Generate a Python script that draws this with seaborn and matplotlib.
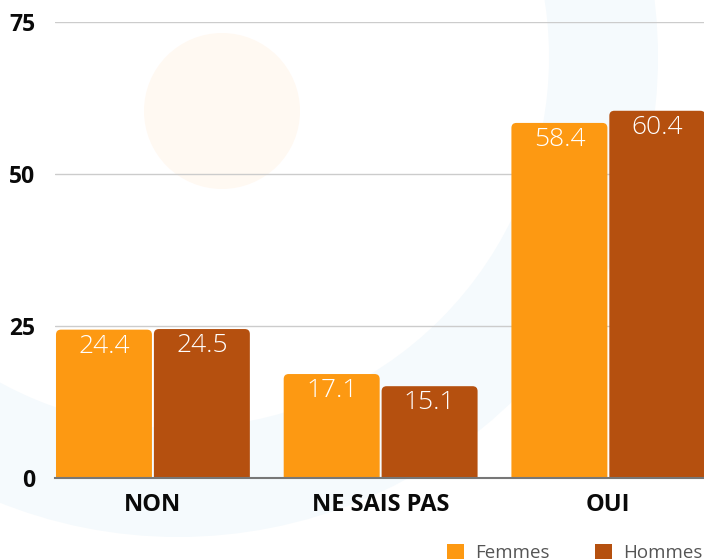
import numpy as np
import pandas as pd
import matplotlib
matplotlib.use("Agg")
import matplotlib.pyplot as plt
import seaborn as sns
from matplotlib.patches import FancyBboxPatch, Patch, Circle, Wedge

# data
categories = ["NON", "NE SAIS PAS", "OUI"]
femmes = [24.4, 17.1, 58.4]
hommes = [24.5, 15.1, 60.4]
series_names = ["Femmes", "Hommes"]
colors = ["#fd9912", "#b5500f"]
y_ticks = [0, 25, 50, 75]

df = pd.DataFrame({
    "categorie": categories * 2,
    "valeur": femmes + hommes,
    "sexe": [series_names[0]] * len(categories) + [series_names[1]] * len(categories),
})

sns.set_theme(style="white")
plt.rcParams["font.family"] = ["Open Sans", "DejaVu Sans"]

W, H = 704, 559
fig = plt.figure(figsize=(W / 100, H / 100), dpi=100, facecolor="white")
ax = fig.add_axes([55 / W, 81 / H, 649 / W, 456 / H])
ax.set_facecolor("none")

# faint decorative background shapes (pixel coords -> inches)
def px(x, y):
    return (x / 100, (H - y) / 100)

ring = Wedge(px(178, 57), 4.80, 0, 360, width=1.09, facecolor="#f5fafd",
             edgecolor="none", transform=fig.dpi_scale_trans, zorder=-2)
dot = Circle(px(222, 111), 0.78, facecolor="#fff9f2", edgecolor="none",
             transform=fig.dpi_scale_trans, zorder=-1)
fig.add_artist(ring)
fig.add_artist(dot)

sns.barplot(data=df, x="categorie", y="valeur", hue="sexe", order=categories,
            hue_order=series_names, palette=colors, width=0.86, gap=0.02,
            saturation=1, legend=False, ax=ax, zorder=3)

ax.set_xlim(-0.43, 2.42)
ax.set_ylim(0, 75)

# rounded top corners for the bars
x_per_px = (2.42 + 0.43) / 649
y_per_px = 75 / 456
rad = 5
bars = list(ax.patches)
for p in bars:
    x0, w, h = p.get_x(), p.get_width(), p.get_height()
    fc = p.get_facecolor()
    p.remove()
    fb = FancyBboxPatch((x0, -3), w, h + 3,
                        boxstyle=f"round,pad=0,rounding_size={rad * x_per_px}",
                        mutation_aspect=y_per_px / x_per_px,
                        facecolor=fc, edgecolor="none", zorder=3)
    ax.add_patch(fb)
    ax.annotate(f"{h:.1f}", (x0 + w / 2, h), xytext=(0, -3),
                textcoords="offset points", ha="center", va="top",
                color="white", fontsize=19, fontweight="light", zorder=4)

ax.set_yticks(y_ticks)
ax.grid(axis="y", color="#cccccc", linewidth=1, zorder=0)
ax.grid(axis="x", visible=False)
for s in ["top", "right", "left"]:
    ax.spines[s].set_visible(False)
ax.spines["bottom"].set_color("#777777")
ax.spines["bottom"].set_linewidth(1.5)
ax.spines["bottom"].set_zorder(5)

ax.tick_params(axis="y", length=0, pad=14, labelsize=16.5, labelcolor="#0a0a0a")
ax.tick_params(axis="x", length=0, pad=11, labelsize=17, labelcolor="#0a0a0a")
for lab in ax.get_yticklabels() + ax.get_xticklabels():
    lab.set_fontweight("bold")
ax.set_xlabel("")
ax.set_ylabel("")

handles = [Patch(facecolor=c, edgecolor="none") for c in colors]
leg = fig.legend(handles, series_names, loc="upper left",
                 bbox_to_anchor=(447 / W, 1 - 544 / H), ncol=2, frameon=False,
                 fontsize=13.5, handlelength=0.9, handleheight=0.9,
                 handletextpad=0.6, columnspacing=2.4, borderpad=0,
                 borderaxespad=0)
for t in leg.get_texts():
    t.set_color("#555555")

fig.savefig("out.png", dpi=100, facecolor="white")
